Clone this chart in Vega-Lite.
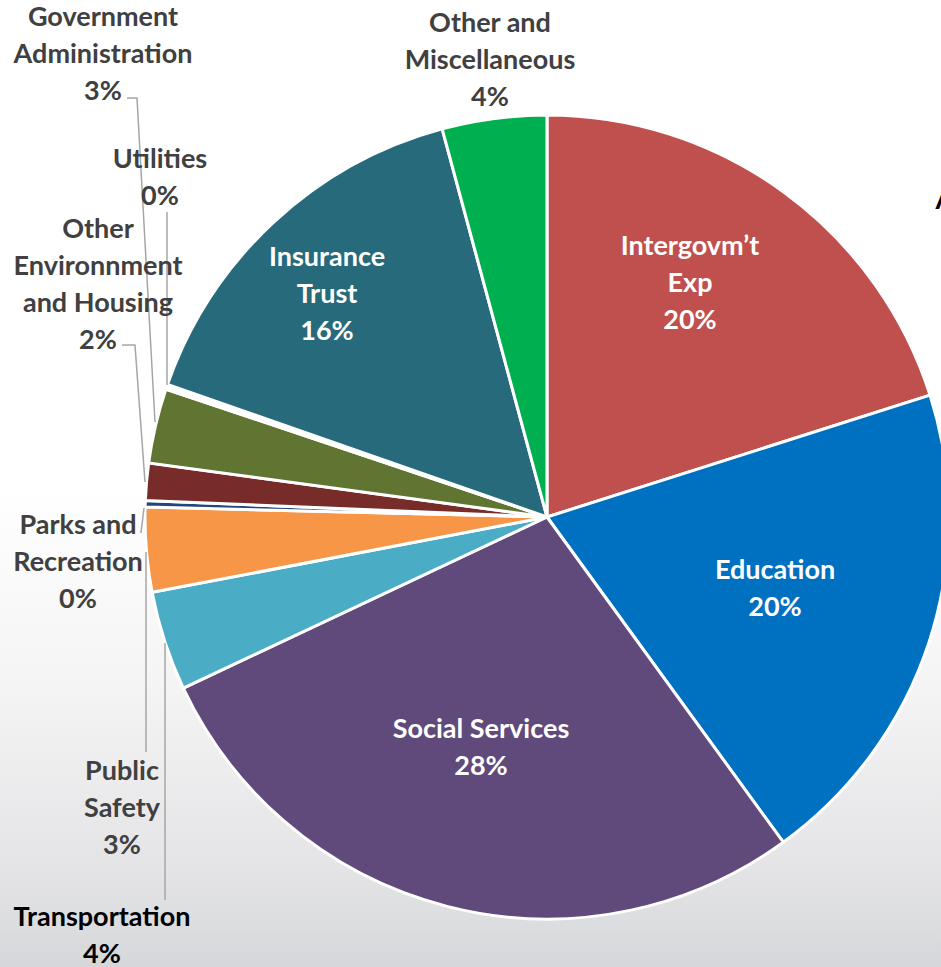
{
  "$schema": "https://vega.github.io/schema/vega-lite/v6.json",
  "width": 941,
  "height": 967,
  "padding": 0,
  "autosize": {"type": "none"},
  "background": "#FFFFFF",
  "config": {"view": {"stroke": null}},
  "datasets": {
    "bg": [{"x0": -136.07, "x1": 98.01, "y0": -111.94, "y1": 128.61}],
    "slices": [
      {"ord": 1, "category": "Intergovm’t Exp", "value": 20.1},
      {"ord": 2, "category": "Education", "value": 19.9},
      {"ord": 3, "category": "Social Services", "value": 28.0},
      {"ord": 4, "category": "Transportation", "value": 4.0},
      {"ord": 5, "category": "Public Safety", "value": 3.4},
      {"ord": 6, "category": "Parks and Recreation", "value": 0.25},
      {"ord": 7, "category": "Other Environnment and Housing", "value": 1.5},
      {"ord": 8, "category": "Government Administration", "value": 3.0},
      {"ord": 9, "category": "Utilities", "value": 0.2},
      {"ord": 10, "category": "Insurance Trust", "value": 15.45},
      {"ord": 11, "category": "Other and Miscellaneous", "value": 4.2}
    ],
    "leaders": [
      {"id": "gov", "ord": 1, "x": -104.48, "y": 104.23},
      {"id": "gov", "ord": 2, "x": -101.99, "y": 104.23},
      {"id": "gov", "ord": 3, "x": -97.51, "y": 23.63},
      {"id": "util", "ord": 1, "x": -94.53, "y": 75.87},
      {"id": "util", "ord": 2, "x": -94.53, "y": 32.84},
      {"id": "env", "ord": 1, "x": -105.72, "y": 42.79},
      {"id": "env", "ord": 2, "x": -102.49, "y": 42.79},
      {"id": "env", "ord": 3, "x": -100.0, "y": 8.71},
      {"id": "parks", "ord": 1, "x": -101.0, "y": -3.98},
      {"id": "parks", "ord": 2, "x": -100.25, "y": 2.24},
      {"id": "safety", "ord": 1, "x": -99.75, "y": -58.46},
      {"id": "safety", "ord": 2, "x": -99.75, "y": -8.71},
      {"id": "transport", "ord": 1, "x": -95.02, "y": -95.27},
      {"id": "transport", "ord": 2, "x": -95.02, "y": -31.34}
    ],
    "outerLabels": [
      {"label": "Government\nAdministration\n3%", "x": -110.45, "y": 124.13},
      {"label": "Utilities\n0%", "x": -96.27, "y": 88.81},
      {"label": "Other\nEnvironnment\nand Housing\n2%", "x": -111.69, "y": 71.39},
      {"label": "Parks and\nRecreation\n0%", "x": -116.67, "y": -2.24},
      {"label": "Public\nSafety\n3%", "x": -105.72, "y": -63.43},
      {"label": "Other and\nMiscellaneous\n4%", "x": -14.18, "y": 122.64}
    ],
    "blackLabels": [
      {"label": "Transportation\n4%", "x": -110.7, "y": -99.75}
    ],
    "innerLabels": [
      {"label": "Intergovm’t\nExp\n20%", "x": 35.57, "y": 67.16},
      {"label": "Insurance\nTrust\n16%", "x": -54.73, "y": 64.43},
      {"label": "Education\n20%", "x": 56.72, "y": -13.43},
      {"label": "Social Services\n28%", "x": -16.42, "y": -52.99}
    ],
    "edgeText": [
      {"label": "A", "x": 96.64, "y": 76.62}
    ]
  },
  "layer": [
    {
      "data": {"name": "bg"},
      "mark": {
        "type": "rect",
        "color": {
          "gradient": "linear", "x1": 0, "y1": 0, "x2": 0, "y2": 1,
          "stops": [
            {"offset": 0, "color": "#FFFFFF"},
            {"offset": 0.5, "color": "#FFFFFF"},
            {"offset": 0.7, "color": "#F5F5F6"},
            {"offset": 0.9, "color": "#E4E4E6"},
            {"offset": 1, "color": "#D5D7DA"}
          ]
        }
      },
      "encoding": {
        "x": {"field": "x0", "type": "quantitative", "scale": {"domain": [-136.07, 98.01], "nice": false, "zero": false}, "axis": null},
        "x2": {"field": "x1"},
        "y": {"field": "y0", "type": "quantitative", "scale": {"domain": [-111.94, 128.61], "nice": false, "zero": false}, "axis": null},
        "y2": {"field": "y1"}
      }
    },
    {
      "data": {"name": "slices"},
      "mark": {"type": "arc", "radius": 402, "stroke": "#FFFFFF", "strokeWidth": 3},
      "encoding": {
        "theta": {"field": "value", "type": "quantitative", "stack": true},
        "order": {"field": "ord", "type": "quantitative"},
        "color": {
          "field": "category", "type": "nominal", "legend": null,
          "scale": {
            "domain": ["Intergovm’t Exp", "Education", "Social Services", "Transportation", "Public Safety", "Parks and Recreation", "Other Environnment and Housing", "Government Administration", "Utilities", "Insurance Trust", "Other and Miscellaneous"],
            "range": ["#C0504D", "#0070C0", "#604A7B", "#4BACC6", "#F79646", "#1F497D", "#772C2A", "#5F7531", "#FFFFFF", "#276A7C", "#00B050"]
          }
        },
        "x": {"datum": 0, "type": "quantitative", "scale": {"domain": [-136.07, 98.01], "nice": false, "zero": false}, "axis": null},
        "y": {"datum": 0, "type": "quantitative", "scale": {"domain": [-111.94, 128.61], "nice": false, "zero": false}, "axis": null}
      }
    },
    {
      "data": {"name": "leaders"},
      "mark": {"type": "line", "color": "#A6A6A6", "strokeWidth": 1.5},
      "encoding": {
        "x": {"field": "x", "type": "quantitative", "scale": {"domain": [-136.07, 98.01], "nice": false, "zero": false}, "axis": null},
        "y": {"field": "y", "type": "quantitative", "scale": {"domain": [-111.94, 128.61], "nice": false, "zero": false}, "axis": null},
        "detail": {"field": "id", "type": "nominal"},
        "order": {"field": "ord", "type": "quantitative"}
      }
    },
    {
      "data": {"name": "outerLabels"},
      "mark": {"type": "text", "font": "Lato", "fontWeight": "bold", "fontSize": 27, "lineHeight": 37, "lineBreak": "\n", "align": "center", "baseline": "middle", "color": "#404040"},
      "encoding": {
        "x": {"field": "x", "type": "quantitative", "scale": {"domain": [-136.07, 98.01], "nice": false, "zero": false}, "axis": null},
        "y": {"field": "y", "type": "quantitative", "scale": {"domain": [-111.94, 128.61], "nice": false, "zero": false}, "axis": null},
        "text": {"field": "label", "type": "nominal"}
      }
    },
    {
      "data": {"name": "blackLabels"},
      "mark": {"type": "text", "font": "Lato", "fontWeight": "bold", "fontSize": 27, "lineHeight": 37, "lineBreak": "\n", "align": "center", "baseline": "middle", "color": "#000000"},
      "encoding": {
        "x": {"field": "x", "type": "quantitative", "scale": {"domain": [-136.07, 98.01], "nice": false, "zero": false}, "axis": null},
        "y": {"field": "y", "type": "quantitative", "scale": {"domain": [-111.94, 128.61], "nice": false, "zero": false}, "axis": null},
        "text": {"field": "label", "type": "nominal"}
      }
    },
    {
      "data": {"name": "innerLabels"},
      "mark": {"type": "text", "font": "Lato", "fontWeight": "bold", "fontSize": 27, "lineHeight": 37, "lineBreak": "\n", "align": "center", "baseline": "middle", "color": "#FFFFFF"},
      "encoding": {
        "x": {"field": "x", "type": "quantitative", "scale": {"domain": [-136.07, 98.01], "nice": false, "zero": false}, "axis": null},
        "y": {"field": "y", "type": "quantitative", "scale": {"domain": [-111.94, 128.61], "nice": false, "zero": false}, "axis": null},
        "text": {"field": "label", "type": "nominal"}
      }
    },
    {
      "data": {"name": "edgeText"},
      "mark": {"type": "text", "font": "Lato", "fontWeight": "bold", "fontSize": 27, "align": "left", "baseline": "alphabetic", "color": "#000000"},
      "encoding": {
        "x": {"field": "x", "type": "quantitative", "scale": {"domain": [-136.07, 98.01], "nice": false, "zero": false}, "axis": null},
        "y": {"field": "y", "type": "quantitative", "scale": {"domain": [-111.94, 128.61], "nice": false, "zero": false}, "axis": null},
        "text": {"field": "label", "type": "nominal"}
      }
    }
  ]
}
